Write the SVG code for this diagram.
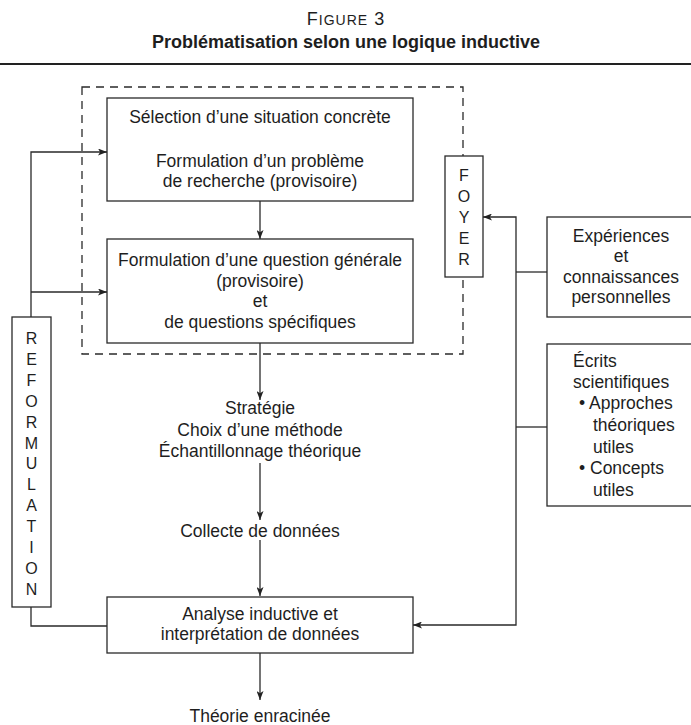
<svg xmlns="http://www.w3.org/2000/svg" width="691" height="725" viewBox="0 0 691 725">
<defs>
<style>
text{font-family:"Liberation Sans",Arial,sans-serif;fill:#1e1e1e;font-size:17.5px}
.c{text-anchor:middle}
.box{fill:#fff;stroke:#2a2a2a;stroke-width:1.3}
.ln{fill:none;stroke:#2a2a2a;stroke-width:1.3}
.dash{fill:none;stroke:#2a2a2a;stroke-width:1.3;stroke-dasharray:8 6}
.vl{font-size:16px;text-anchor:middle}
</style>
<marker id="ah" viewBox="0 0 9 7" refX="9" refY="3.5" markerWidth="9" markerHeight="7" markerUnits="userSpaceOnUse" orient="auto"><path d="M0,0 L9,3.5 L0,7 L2.2,3.5 z" fill="#222"/></marker>
</defs>
<rect width="691" height="725" fill="#fff"/>

<g id="title">
<text class="c" x="346" y="25" style="letter-spacing:1px"><tspan font-size="18">F</tspan><tspan font-size="14">IGURE</tspan><tspan font-size="18"> 3</tspan></text>
<text class="c" x="346" y="48" style="font-weight:bold;font-size:18px">Problématisation selon une logique inductive</text>
<line x1="0" y1="64" x2="691" y2="64" stroke="#222" stroke-width="2"/>
</g>

<g id="foyer-zone">
<rect class="dash" x="82" y="87" width="381" height="267"/>
</g>

<g id="connectors">
<line class="ln" x1="260" y1="138" x2="260" y2="151" marker-end="url(#ah)"/>
<line class="ln" x1="260" y1="201" x2="260" y2="239" marker-end="url(#ah)"/>
<line class="ln" x1="260" y1="343" x2="260" y2="400" marker-end="url(#ah)"/>
<line class="ln" x1="260" y1="463" x2="260" y2="520" marker-end="url(#ah)"/>
<line class="ln" x1="260" y1="540" x2="260" y2="596" marker-end="url(#ah)"/>
<line class="ln" x1="260" y1="653" x2="260" y2="700" marker-end="url(#ah)"/>
<polyline class="ln" points="31,317 31,152 107,152" marker-end="url(#ah)"/>
<line class="ln" x1="31" y1="292" x2="107" y2="292" marker-end="url(#ah)"/>
<polyline class="ln" points="31,607 31,626 107,626"/>
<polyline class="ln" points="516,272 516,217 483,217" marker-end="url(#ah)"/>
<line class="ln" x1="516" y1="272" x2="547" y2="272"/>
<line class="ln" x1="516" y1="427" x2="547" y2="427"/>
<polyline class="ln" points="516,272 516,625 413,625" marker-end="url(#ah)"/>
</g>

<g id="n-selection">
<rect class="box" x="107" y="98" width="306" height="103"/>
<text class="c" x="260" y="123">Sélection d’une situation concrète</text>
<text class="c" x="260" y="167">Formulation d’un problème</text>
<text class="c" x="260" y="187">de recherche (provisoire)</text>
</g>

<g id="n-question">
<rect class="box" x="107" y="239" width="306" height="104"/>
<text class="c" x="260" y="266">Formulation d’une question générale</text>
<text class="c" x="260" y="287">(provisoire)</text>
<text class="c" x="260" y="307">et</text>
<text class="c" x="260" y="328">de questions spécifiques</text>
</g>

<g id="n-foyer">
<rect class="box" x="445" y="156" width="38" height="121"/>
<text class="vl" x="464" y="181">F</text>
<text class="vl" x="464" y="202">O</text>
<text class="vl" x="464" y="223">Y</text>
<text class="vl" x="464" y="244">E</text>
<text class="vl" x="464" y="265">R</text>
</g>

<g id="n-reformulation">
<rect class="box" x="12" y="317" width="39" height="290"/>
<text class="vl" x="31.5" y="344">R</text>
<text class="vl" x="31.5" y="365">E</text>
<text class="vl" x="31.5" y="386">F</text>
<text class="vl" x="31.5" y="407">O</text>
<text class="vl" x="31.5" y="428">R</text>
<text class="vl" x="31.5" y="449">M</text>
<text class="vl" x="31.5" y="469">U</text>
<text class="vl" x="31.5" y="490">L</text>
<text class="vl" x="31.5" y="511">A</text>
<text class="vl" x="31.5" y="532">T</text>
<text class="vl" x="31.5" y="553">I</text>
<text class="vl" x="31.5" y="574">O</text>
<text class="vl" x="31.5" y="595">N</text>
</g>

<g id="n-strategie">
<text class="c" x="260" y="414">Stratégie</text>
<text class="c" x="260" y="436">Choix d’une méthode</text>
<text class="c" x="260" y="457">Échantillonnage théorique</text>
</g>

<g id="n-collecte">
<text class="c" x="260" y="537">Collecte de données</text>
</g>

<g id="n-analyse">
<rect class="box" x="107" y="597" width="306" height="56"/>
<text class="c" x="260" y="620">Analyse inductive et</text>
<text class="c" x="260" y="640">interprétation de données</text>
</g>

<g id="n-theorie">
<text class="c" x="260" y="722">Théorie enracinée</text>
</g>

<g id="n-experiences">
<rect class="box" x="547" y="217" width="150" height="100"/>
<text class="c" x="621" y="242">Expériences</text>
<text class="c" x="621" y="262">et</text>
<text class="c" x="621" y="283">connaissances</text>
<text class="c" x="621" y="303">personnelles</text>
</g>

<g id="n-ecrits">
<rect class="box" x="547" y="344" width="150" height="162"/>
<text x="573" y="367">Écrits</text>
<text x="573" y="388">scientifiques</text>
<text x="579" y="409">• Approches</text>
<text x="593" y="431">théoriques</text>
<text x="593" y="453">utiles</text>
<text x="579" y="474">• Concepts</text>
<text x="593" y="496">utiles</text>
</g>
</svg>
